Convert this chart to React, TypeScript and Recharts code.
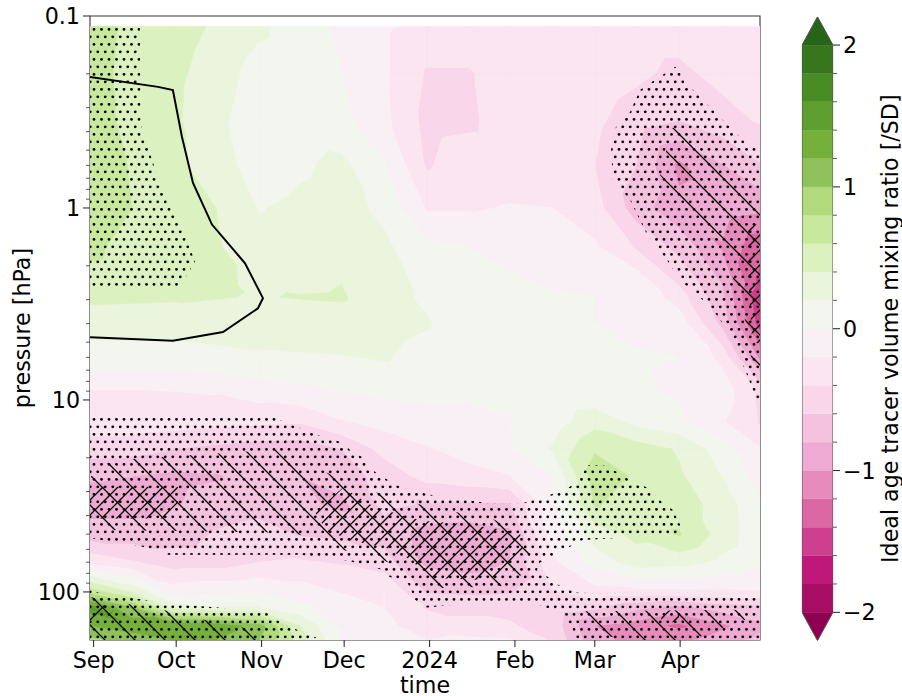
import React from 'react'
import { ScatterChart, Scatter, XAxis, YAxis, ReferenceArea, Label } from 'recharts'

const FONT = '"DejaVu Sans", sans-serif'
const FS = 22.2
const AXIS = '#333'

// grid of the field
const times = [-1.3, 14, 29, 44.5, 60, 75, 90, 105.5, 121, 136, 151, 166.5, 182, 197, 212.5, 228, 242]
const pressures = [0.113, 0.2, 0.35, 0.6, 1, 1.6, 2.5, 2.9, 4, 6, 9, 13, 18, 25, 35, 50, 70, 100, 120, 150, 178]
const ratio = [
  [0.75, 0.52, 0.5, 0.37, 0.24, 0.1, -0.04, -0.17, -0.27, -0.28, -0.28, -0.28, -0.28, -0.3, -0.3, -0.3, -0.3],
  [0.72, 0.5, 0.45, 0.3, 0.12, 0.08, 0.0, -0.17, -0.42, -0.42, -0.3, -0.28, -0.28, -0.36, -0.45, -0.34, -0.28],
  [0.73, 0.52, 0.44, 0.25, 0.08, 0.1, 0.05, -0.15, -0.46, -0.44, -0.3, -0.28, -0.36, -0.5, -0.6, -0.48, -0.38],
  [0.75, 0.58, 0.45, 0.3, 0.1, 0.17, 0.25, 0.02, -0.42, -0.3, -0.28, -0.3, -0.4, -0.6, -1.05, -0.82, -0.62],
  [0.77, 0.6, 0.48, 0.4, 0.19, 0.24, 0.28, 0.15, -0.22, -0.22, -0.19, -0.2, -0.32, -0.7, -0.95, -0.9, -0.95],
  [0.66, 0.5, 0.45, 0.42, 0.28, 0.28, 0.3, 0.24, 0.05, 0.0, -0.04, -0.08, -0.17, -0.42, -0.66, -1.02, -1.35],
  [0.5, 0.47, 0.47, 0.42, 0.38, 0.36, 0.4, 0.3, 0.14, 0.05, 0.02, -0.01, -0.04, -0.05, -0.41, -0.8, -1.45],
  [0.45, 0.44, 0.43, 0.41, 0.39, 0.41, 0.42, 0.28, 0.16, 0.05, 0.03, 0.01, 0.0, -0.03, -0.3, -0.75, -1.6],
  [0.28, 0.28, 0.28, 0.3, 0.3, 0.3, 0.32, 0.28, 0.22, 0.05, 0.02, 0.01, 0.0, -0.03, -0.08, -0.65, -1.5],
  [0.12, 0.12, 0.12, 0.14, 0.17, 0.18, 0.19, 0.22, 0.12, 0.04, 0.02, 0.01, 0.0, 0.01, 0.0, -0.25, -1.05],
  [-0.22, -0.22, -0.2, -0.18, -0.1, -0.05, 0.0, 0.04, 0.05, 0.03, 0.02, 0.02, 0.03, 0.02, -0.02, -0.08, -0.45],
  [-0.28, -0.28, -0.3, -0.33, -0.36, -0.38, -0.22, -0.14, -0.08, -0.06, -0.01, 0.09, 0.33, 0.14, 0.04, -0.18, -0.42],
  [-0.5, -0.52, -0.6, -0.65, -0.7, -0.72, -0.6, -0.33, -0.22, -0.13, -0.02, 0.22, 0.58, 0.5, 0.38, 0.1, -0.18],
  [-0.78, -0.8, -0.85, -0.82, -0.72, -0.8, -0.7, -0.53, -0.33, -0.27, -0.21, 0.0, 0.7, 0.58, 0.43, 0.2, -0.08],
  [-0.88, -0.88, -0.82, -0.72, -0.68, -0.75, -0.85, -0.55, -0.62, -0.63, -0.62, -0.05, 0.62, 0.5, 0.5, 0.32, 0.02],
  [-0.72, -0.72, -0.7, -0.58, -0.52, -0.62, -0.65, -0.68, -0.88, -0.92, -0.85, -0.12, 0.3, 0.45, 0.62, 0.32, 0.05],
  [-0.25, -0.38, -0.5, -0.5, -0.4, -0.38, -0.42, -0.52, -0.85, -0.9, -0.8, -0.25, 0.08, 0.3, 0.28, 0.15, 0.04],
  [0.72, 0.38, -0.1, -0.03, -0.02, -0.1, -0.21, -0.2, -0.62, -0.65, -0.62, -0.42, -0.28, -0.26, -0.26, -0.25, -0.22],
  [1.5, 1.0, 0.3, 0.2, 0.2, 0.05, -0.1, -0.2, -0.42, -0.42, -0.45, -0.45, -0.55, -0.75, -0.85, -0.72, -0.65],
  [1.2, 1.35, 1.4, 1.35, 1.1, 0.4, -0.05, -0.15, -0.3, -0.38, -0.38, -0.48, -1.0, -1.1, -1.25, -1.05, -0.85],
  [0.95, 1.05, 1.2, 1.2, 1.0, 0.5, 0.0, -0.1, -0.2, -0.15, -0.18, -0.42, -0.95, -1.05, -1.05, -0.9, -0.75],
]

// contour levels, lowest first
const levels = [-2, -1.8, -1.6, -1.4, -1.2, -1, -0.8, -0.6, -0.4, -0.2, 0, 0.2, 0.4, 0.6, 0.8, 1, 1.2, 1.4, 1.6, 1.8, 2]
const bandColors = [
  '#a70e63', '#c0187a', '#cf3f8f', '#dc68a3', '#e68bbb', '#eeaad2', '#f4c2df', '#f9d6ea', '#fbe5f0', '#f8f0f4',
  '#f3f6ee', '#ebf5dd', '#dcf1c0', '#c8e89e', '#b0da7c', '#8fc25c', '#76b03c', '#5f9f2f', '#4a8c24', '#38761d',
]
const underColor = '#8e0152'
const overColor = '#276419'

// the black contour
const contourLine = [
  [-1.3, 0.208], [23.4, 0.234], [28.8, 0.243], [32.1, 0.4265], [36.1, 0.741], [43, 1.22], [55, 1.94],
  [61.5, 2.95], [59.7, 3.33], [47, 4.43], [28.8, 4.92], [-1.3, 4.71],
]

// significance regions, [day, hPa]
const stippleRegions = [
  [[-1.3, 0.113], [16.8, 0.113], [17.2, 0.37], [20.1, 0.5], [23.4, 0.695], [27.7, 0.965], [33.2, 1.38], [36.8, 1.9], [31.3, 2.62], [-1.3, 2.62]],
  [[211.2, 0.184], [202.8, 0.22], [198.4, 0.243], [194.8, 0.316], [189.4, 0.384], [187.9, 0.5], [188.6, 0.716], [194.8, 0.91], [201, 1.38], [208.3, 1.87], [212.9, 2.38], [219.2, 2.83], [225, 3.4], [231.1, 4.58], [235.8, 6.55], [240.9, 10], [242, 10], [242, 0.5], [235.8, 0.443], [225, 0.31], [217.7, 0.243]],
  [[-1.3, 12.4], [65.9, 12.4], [81.1, 15.2], [90.6, 16.7], [93.1, 18.2], [97.5, 19.8], [102.2, 23.7], [106.9, 26.1], [111.3, 28.3], [122.2, 31.2], [142.9, 34.4], [156, 34.4], [165.8, 31.2], [173, 28.3], [177.7, 23.7], [179.5, 21.8], [185, 21.8], [190.1, 23.7], [194.8, 26.1], [201, 28.6], [206.4, 34], [210.4, 37.4], [213, 44.7], [211.9, 50.4], [177.7, 53.6], [173, 58.2], [168.3, 63.3], [162.1, 70.3], [161, 76.8], [165, 83.6], [168.7, 91.8], [175.9, 101], [242, 104.8], [242, 178], [175.6, 178], [174.1, 158], [171.9, 140], [169.4, 128.8], [162.1, 117.5], [135.6, 114.8], [120.4, 121], [116.7, 110], [115.6, 100], [114.2, 90.8], [107.6, 83.6], [105.1, 76.8], [93.8, 69.7], [74.9, 64.1], [27, 64.1], [17.9, 58.2], [-1.3, 52.3]],
  [[-1.3, 97.6], [4.1, 103.6], [12.1, 106.2], [26.6, 114.8], [62.2, 126], [66.6, 140], [72.4, 154], [82.9, 178], [-1.3, 178]],
]
const backHatchRegions = [
  [[-1.3, 25.5], [2.3, 21.8], [9.6, 20.5], [74.9, 17.8], [82.2, 23.2], [103.3, 30.5], [119.2, 35.3], [131.9, 38.4], [145, 41.7], [154.8, 49.1], [158.5, 64.1], [154.8, 83.6], [147.5, 93.8], [126.5, 95.3], [105.1, 68.1], [90.6, 60.4], [74.9, 50.4], [67.6, 49.1], [-1.3, 47.5]],
  [[178.5, 126], [234.8, 124], [236.6, 140], [228.2, 154], [220.2, 171], [213, 178], [198.4, 178], [187.5, 171]],
  [[-1.3, 106.2], [13.2, 116], [27.7, 126], [40.4, 140], [55, 154], [60.4, 178], [-1.3, 178]],
  [[205.7, 0.673], [231.9, 2.11], [232.2, 2.38], [236.9, 3.97], [238.8, 6.05], [242, 6.8], [242, 0.965], [212.9, 0.37], [210, 0.384]],
]
const foreHatchRegions = [
  [[-1.3, 28.3], [30.6, 28.3], [30.6, 34.4], [25.2, 41.5], [-1.3, 41.5]],
  [[90.6, 28.6], [100.4, 35], [108.4, 38.4], [113.8, 40.8], [121.4, 42.9], [131.9, 44], [142.9, 46.1], [154.8, 49.1], [156, 59], [152.3, 78.3], [141.4, 86.6], [123.2, 84.6], [119.7, 76.8], [113.8, 66.4], [109.4, 62.7], [106.5, 59], [92.4, 53.6], [88.7, 50.4], [84.8, 48.5], [80.4, 38.4]],
  [[-1.3, 117.5], [7, 117.5], [7, 126], [1.6, 149], [-1.3, 140]],
  [[237.7, 1.22], [242, 1.22], [242, 5.17], [239.1, 4.87], [237.7, 2.38]],
  [[205.7, 126], [212.2, 124], [213, 144], [206.4, 144]],
]

// axis ticks
const monthDays = [0, 30, 61, 91, 122, 153, 182, 213]
const monthLabels = ['Sep', 'Oct', 'Nov', 'Dec', '2024', 'Feb', 'Mar', 'Apr']
const majorPressures = [0.1, 1, 10, 100]
const minorPressures = [0.2, 0.3, 0.4, 0.5, 0.6, 0.7, 0.8, 0.9, 2, 3, 4, 5, 6, 7, 8, 9, 20, 30, 40, 50, 60, 70, 80, 90]
const barMajor = [-2, -1, 0, 1, 2]
const barMinor = [-1.8, -1.6, -1.4, -1.2, -0.8, -0.6, -0.4, -0.2, 0.2, 0.4, 0.6, 0.8, 1.2, 1.4, 1.6, 1.8]

type V = { x: number; l: number; v: number }

// keep the part of a polygon on one side of a level
function clip(poly: V[], level: number, keepAbove: boolean): V[] {
  const out: V[] = []
  const inside = (p: V) => (keepAbove ? p.v >= level : p.v <= level)
  poly.forEach((a, i) => {
    const b = poly[(i + 1) % poly.length]
    if (inside(a)) out.push(a)
    if (inside(a) !== inside(b)) {
      const t = (level - a.v) / (b.v - a.v)
      out.push({ x: a.x + t * (b.x - a.x), l: a.l + t * (b.l - a.l), v: level })
    }
  })
  return out
}

function buildField() {
  const vertices: { x: number; y: number }[] = []
  const bands: { color: string; lens: number[] }[] = []
  bandColors.forEach((color, k) => {
    const lens: number[] = []
    for (let r = 0; r < pressures.length - 1; r++) {
      for (let c = 0; c < times.length - 1; c++) {
        const n = (rr: number, cc: number): V => ({ x: times[cc], l: Math.log10(pressures[rr]), v: ratio[rr][cc] })
        const a = n(r, c), b = n(r, c + 1), d = n(r + 1, c + 1), e = n(r + 1, c)
        const tris = [[a, b, d], [a, d, e]]
        tris.forEach((t) => {
          const part = clip(clip(t, levels[k], true), levels[k + 1], false)
          if (part.length < 3) return
          lens.push(part.length)
          part.forEach((p) => vertices.push({ x: p.x, y: Math.pow(10, p.l) }))
        })
      }
    }
    bands.push({ color, lens })
  })
  return { vertices, bands }
}

const field = buildField()

const toRows = (list: number[][]) => list.map(([x, y]) => ({ x, y }))

function pathsFrom(points: { x: number; y: number }[], lens: number[], start: number) {
  let i = start
  let d = ''
  lens.forEach((n) => {
    for (let j = 0; j < n; j++) {
      d += (j === 0 ? 'M' : 'L') + points[i].x.toFixed(2) + ',' + points[i].y.toFixed(2)
      i++
    }
    d += 'Z'
  })
  return { d, next: i }
}

function FieldLayer(props: any) {
  let at = 0
  return (
    <g>
      {field.bands.map((b, i) => {
        const { d, next } = pathsFrom(props.points, b.lens, at)
        at = next
        return <path key={i} d={d} fill={b.color} stroke={b.color} strokeWidth={0.5} />
      })}
    </g>
  )
}

const maskData = (regions: number[][][]) => toRows(regions.flat())

function maskLayer(regions: number[][][], fill: string) {
  return (props: any) => {
    const { d } = pathsFrom(props.points, regions.map((r) => r.length), 0)
    return <path d={d} fill={fill} stroke="none" />
  }
}

const noMark = () => null

function PressureTick({ x, y, payload }: any) {
  const major = majorPressures.includes(payload.value)
  return (
    <g>
      <line x1={x} x2={x - (major ? 7 : 4)} y1={y} y2={y} stroke={AXIS} strokeWidth={major ? 1.1 : 0.8} />
      {major && (
        <text x={x - 10} y={y + 8} textAnchor="end" fontSize={FS} fontFamily={FONT} fill="#000">
          {payload.value}
        </text>
      )}
    </g>
  )
}

function MonthTick({ x, y, payload }: any) {
  return (
    <g>
      <line x1={x} x2={x} y1={y} y2={y + 7} stroke={AXIS} strokeWidth={1.1} />
      <text x={x} y={y + 28} textAnchor="middle" fontSize={FS} fontFamily={FONT} fill="#000">
        {monthLabels[monthDays.indexOf(payload.value)]}
      </text>
    </g>
  )
}

function BarTick({ x, y, payload }: any) {
  const major = barMajor.includes(payload.value)
  return (
    <g>
      <line x1={x} x2={x + (major ? 7 : 4)} y1={y} y2={y} stroke={AXIS} strokeWidth={major ? 1.1 : 0.8} />
      {major && (
        <text x={x + 10} y={y + 8} fontSize={FS} fontFamily={FONT} fill="#000">
          {String(payload.value).replace('-', '\u2212')}
        </text>
      )}
    </g>
  )
}

// colourbar end caps and outline, in bar units
const capTop = [[0, 2], [0.5, 2.2], [1, 2]]
const capBottom = [[0, -2], [0.5, -2.2], [1, -2]]
const barOutline = [[0, -2], [0.5, -2.2], [1, -2], [1, 2], [0.5, 2.2], [0, 2], [0, -2]]

function capLayer(fill: string) {
  return (props: any) => {
    const { d } = pathsFrom(props.points, [3], 0)
    return <path d={d} fill={fill} stroke="none" />
  }
}

function ColorBar() {
  return (
    <div style={{ position: 'absolute', left: 780, top: 0 }}>
      <ScatterChart width={122} height={696} margin={{ top: 16.7, right: 0, bottom: 55.3, left: 22 }}>
        <XAxis type="number" dataKey="x" domain={[0, 1]} hide allowDataOverflow />
        <YAxis
          type="number"
          dataKey="y"
          orientation="right"
          width={69}
          domain={[-2.2, 2.2]}
          allowDataOverflow
          ticks={[...barMajor, ...barMinor]}
          interval={0}
          axisLine={false}
          tickLine={false}
          tickSize={0}
          tickMargin={0}
          tick={<BarTick />}
        >
          <Label
            value="Ideal age tracer volume mixing ratio [/SD]"
            angle={-90}
            position="right"
            offset={0}
            dx={-12}
            style={{ fontSize: FS, fontFamily: FONT, fill: '#000', textAnchor: 'middle' }}
          />
        </YAxis>
        {bandColors.map((c, i) => (
          <ReferenceArea key={i} x1={0} x2={1} y1={levels[i]} y2={levels[i + 1]} fill={c} fillOpacity={1} stroke={c} strokeWidth={0.3} />
        ))}
        <Scatter data={toRows(capTop)} shape={noMark} line={capLayer(overColor)} isAnimationActive={false} />
        <Scatter data={toRows(capBottom)} shape={noMark} line={capLayer(underColor)} isAnimationActive={false} />
        <Scatter data={toRows(barOutline)} shape={noMark} line={{ stroke: '#555', strokeWidth: 1 }} isAnimationActive={false} />
      </ScatterChart>
    </div>
  )
}

export default function App() {
  return (
    <div style={{ position: 'absolute', left: 0, top: 0, width: 902, height: 696, background: '#fff' }}>
      <div style={{ position: 'absolute', left: 0, top: 0 }}>
        <ScatterChart width={780} height={696} margin={{ top: 16, right: 20, bottom: 16, left: 30 }}>
          <defs>
            <pattern id="stipple" patternUnits="userSpaceOnUse" width={15} height={15}>
              <circle cx={4} cy={14.3} r={1.4} fill="#000" />
              <circle cx={4} cy={-0.7} r={1.4} fill="#000" />
              <circle cx={11.5} cy={14.3} r={1.4} fill="#000" />
              <circle cx={11.5} cy={-0.7} r={1.4} fill="#000" />
              <circle cx={7.75} cy={6.8} r={1.4} fill="#000" />
              <circle cx={0.25} cy={6.8} r={1.4} fill="#000" />
              <circle cx={15.25} cy={6.8} r={1.4} fill="#000" />
            </pattern>
            <pattern id="backHatch" patternUnits="userSpaceOnUse" width={30} height={30}>
              <path d="M-5,-10L35,30M-5,20L15,40" stroke="#000" strokeWidth={1.3} fill="none" />
            </pattern>
            <pattern id="foreHatch" patternUnits="userSpaceOnUse" width={15} height={15}>
              <path d="M-5,10L10,-5M-5,25L25,-5" stroke="#000" strokeWidth={1.3} fill="none" />
            </pattern>
          </defs>
          <XAxis
            type="number"
            dataKey="x"
            domain={[-1.3, 242]}
            allowDataOverflow
            height={40}
            ticks={monthDays}
            interval={0}
            axisLine={false}
            tickLine={false}
            tickSize={0}
            tickMargin={0}
            tick={<MonthTick />}
          >
            <Label value="time" position="bottom" offset={-3} style={{ fontSize: FS, fontFamily: FONT, fill: '#000' }} />
          </XAxis>
          <YAxis
            type="number"
            dataKey="y"
            scale="log"
            reversed
            width={60}
            domain={[0.1, 178]}
            allowDataOverflow
            ticks={[...majorPressures, ...minorPressures]}
            interval={0}
            axisLine={false}
            tickLine={false}
            tickSize={0}
            tickMargin={0}
            tick={<PressureTick />}
          >
            <Label
              value="pressure [hPa]"
              angle={-90}
              position="left"
              offset={0}
              dx={-8}
              style={{ fontSize: FS, fontFamily: FONT, fill: '#000', textAnchor: 'middle' }}
            />
          </YAxis>
          <Scatter data={field.vertices} shape={noMark} line={FieldLayer} isAnimationActive={false} />
          <Scatter data={maskData(stippleRegions)} shape={noMark} line={maskLayer(stippleRegions, 'url(#stipple)')} isAnimationActive={false} />
          <Scatter data={maskData(backHatchRegions)} shape={noMark} line={maskLayer(backHatchRegions, 'url(#backHatch)')} isAnimationActive={false} />
          <Scatter data={maskData(foreHatchRegions)} shape={noMark} line={maskLayer(foreHatchRegions, 'url(#foreHatch)')} isAnimationActive={false} />
          <Scatter data={toRows(contourLine)} shape={noMark} line={{ stroke: '#000', strokeWidth: 2 }} isAnimationActive={false} />
          <ReferenceArea x1={-1.3} x2={242} y1={0.1} y2={178} fill="none" stroke={AXIS} strokeWidth={1.1} ifOverflow="visible" />
        </ScatterChart>
      </div>
      <ColorBar />
    </div>
  )
}
